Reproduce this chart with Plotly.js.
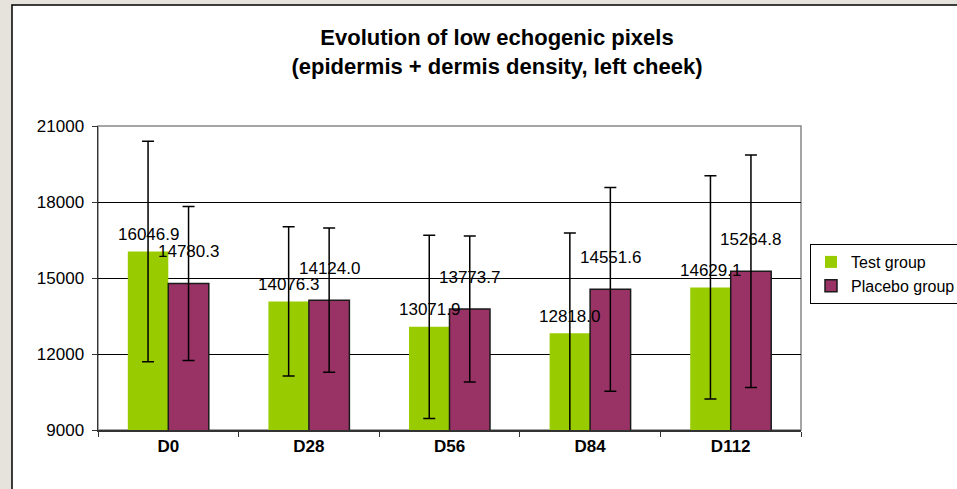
<!DOCTYPE html>
<html>
<head>
<meta charset="utf-8">
<script src="https://cdn.plot.ly/plotly-3.0.1.min.js"></script>
<style>
html,body{margin:0;padding:0;background:#e6e3dc;}
#chart{width:957px;height:489px;}
</style>
</head>
<body>
<div id="chart"></div>
<script>
const categories = ['D0', 'D28', 'D56', 'D84', 'D112'];
const testValues = [16046.9, 14076.3, 13071.9, 12818.0, 14629.1];
const placeboValues = [14780.3, 14124.0, 13773.7, 14551.6, 15264.8];
const testSD = [4350, 2945, 3615, 3960, 4410];
const placeboSD = [3040, 2845, 2880, 4020, 4590];
const seriesNames = ['Test group', 'Placebo group'];
const yTicks = [9000, 12000, 15000, 18000, 21000];

const FONT = 'Liberation Sans, Arial, sans-serif';
const bargap = 0.424;

const traces = [
  {
    type: 'bar', name: seriesNames[0], x: categories, y: testValues,
    marker: {color: '#99cc00', line: {width: 0}},
    error_y: {type: 'data', array: testSD, visible: true, color: '#000', thickness: 1.5, width: 6}
  },
  {
    type: 'bar', name: seriesNames[1], x: categories, y: placeboValues,
    marker: {color: '#993366', line: {color: '#1a1a1a', width: 1.5}},
    error_y: {type: 'data', array: placeboSD, visible: true, color: '#000', thickness: 1.5, width: 6}
  }
];

const barW = (1 - bargap) / 2;
const annotations = [];
testValues.forEach((v, i) => annotations.push({
  x: i - barW / 2, y: v, xref: 'x', yref: 'y', text: v.toFixed(1), showarrow: false,
  yanchor: 'middle', yshift: 17, font: {family: FONT, size: 17, color: '#000'}
}));
placeboValues.forEach((v, i) => annotations.push({
  x: i + barW / 2, y: v, xref: 'x', yref: 'y', text: v.toFixed(1), showarrow: false,
  yanchor: 'middle', yshift: 32, font: {family: FONT, size: 17, color: '#000'}
}));

const layout = {
  width: 957, height: 489,
  margin: {l: 98, r: 156, t: 126, b: 59, autoexpand: false},
  paper_bgcolor: '#e6e3dc',
  plot_bgcolor: '#ffffff',
  font: {family: FONT, color: '#000'},
  barmode: 'group', bargap: bargap, bargroupgap: 0,
  title: {
    text: '<b>Evolution of low echogenic pixels<br>(epidermis + dermis density, left cheek)</b>',
    font: {family: FONT, size: 22, color: '#000'},
    x: 497 / 957, xanchor: 'center', xref: 'container',
    y: 1 - 45 / 489, yanchor: 'middle', yref: 'container'
  },
  xaxis: {
    type: 'category', tickson: 'boundaries', ticks: 'outside', ticklen: 5, tickcolor: '#333',
    showline: true, linecolor: '#333', linewidth: 1.5,
    tickfont: {family: FONT, size: 17, color: '#000', weight: 'bold'},
    showgrid: false, fixedrange: true, automargin: false
  },
  yaxis: {
    range: [9000, 21000], tickvals: yTicks, ticktext: yTicks.map(String),
    ticks: 'outside', ticklen: 5, tickcolor: '#333',
    showline: true, linecolor: '#333', linewidth: 1.5,
    showgrid: true, gridcolor: '#000', gridwidth: 1, zeroline: false,
    tickfont: {family: FONT, size: 17, color: '#000'}, ticklabelstandoff: 4, automargin: false
  },
  legend: {
    x: (810 - 98) / 703, y: (430 - 244) / 304, xanchor: 'left', yanchor: 'top',
    bgcolor: '#fff', bordercolor: '#000', borderwidth: 1,
    font: {family: FONT, size: 16, color: '#000'}, itemwidth: 30, tracegroupgap: 0
  },
  annotations: annotations,
  shapes: [
    {type: 'rect', xref: 'paper', yref: 'paper', layer: 'below',
     x0: (12 - 98) / 703, x1: (962 - 98) / 703, y0: (430 - 495) / 304, y1: (430 - 5) / 304,
     fillcolor: '#fff', line: {color: '#000', width: 1.5}},
    {type: 'rect', xref: 'paper', yref: 'paper', layer: 'below',
     x0: 0, x1: 1, y0: 0, y1: 1, line: {color: '#888', width: 1.5}}
  ],
  showlegend: true
};

Plotly.newPlot('chart', traces, layout, {displayModeBar: false, staticPlot: true});
</script>
</body>
</html>
